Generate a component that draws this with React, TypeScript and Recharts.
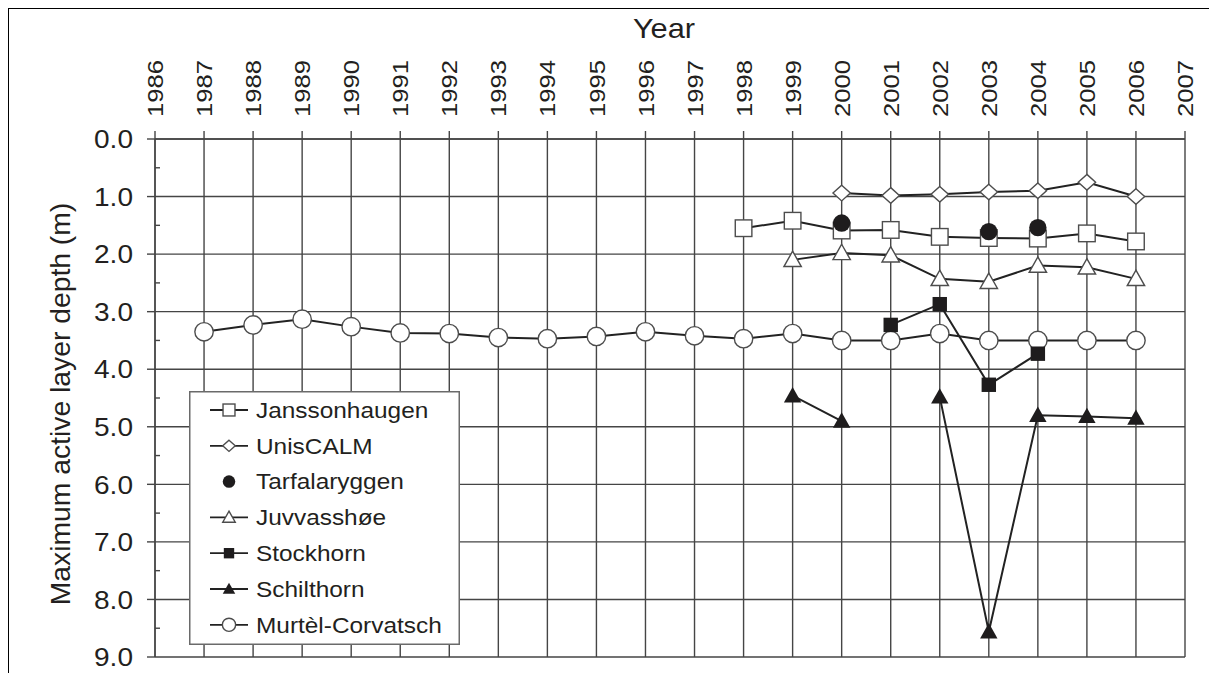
import React from 'react';
import { LineChart, Line, XAxis, YAxis, CartesianGrid, Legend } from 'recharts';

const FONT = '"Liberation Sans", Arial, Helvetica, sans-serif';
const INK = '#231f20';
const GRID = '#454545';
const OPEN_STROKE = '#4d4d4d';

const axisYears = [1986, 1987, 1988, 1989, 1990, 1991, 1992, 1993, 1994, 1995, 1996, 1997, 1998, 1999, 2000, 2001, 2002, 2003, 2004, 2005, 2006, 2007];
const dataYears = [1987, 1988, 1989, 1990, 1991, 1992, 1993, 1994, 1995, 1996, 1997, 1998, 1999, 2000, 2001, 2002, 2003, 2004, 2005, 2006];
const depthTicks = [0, 0.5, 1, 1.5, 2, 2.5, 3, 3.5, 4, 4.5, 5, 5.5, 6, 6.5, 7, 7.5, 8, 8.5, 9];
const depthGrid = [0, 1, 2, 3, 4, 5, 6, 7, 8, 9];

// values per dataYears (1987..2006); null = no measurement
const janssonhaugen = [null, null, null, null, null, null, null, null, null, null, null, 1.55, 1.42, 1.59, 1.58, 1.7, 1.72, 1.73, 1.64, 1.78];
const unisCALM = [null, null, null, null, null, null, null, null, null, null, null, null, null, 0.94, 0.98, 0.96, 0.92, 0.9, 0.75, 1.0];
const tarfalaryggen = [null, null, null, null, null, null, null, null, null, null, null, null, null, 1.46, null, null, 1.61, 1.54, null, null];
const juvvasshoe = [null, null, null, null, null, null, null, null, null, null, null, null, 2.1, 1.98, 2.02, 2.43, 2.48, 2.2, 2.23, 2.43];
const stockhorn = [null, null, null, null, null, null, null, null, null, null, null, null, null, null, 3.23, 2.87, 4.27, 3.73, null, null];
const schilthorn = [null, null, null, null, null, null, null, null, null, null, null, null, 4.46, 4.9, null, 4.48, 8.56, 4.8, 4.82, 4.85];
const murtelCorvatsch = [3.35, 3.23, 3.13, 3.26, 3.37, 3.38, 3.45, 3.47, 3.43, 3.35, 3.42, 3.47, 3.38, 3.5, 3.5, 3.38, 3.5, 3.5, 3.5, 3.5];

const seriesNames = ['Janssonhaugen', 'UnisCALM', 'Tarfalaryggen', 'Juvvasshøe', 'Stockhorn', 'Schilthorn', 'Murtèl-Corvatsch'];

const data = dataYears.map((year, i) => ({
  year,
  janssonhaugen: janssonhaugen[i],
  unisCALM: unisCALM[i],
  tarfalaryggen: tarfalaryggen[i],
  juvvasshoe: juvvasshoe[i],
  stockhorn: stockhorn[i],
  schilthorn: schilthorn[i],
  murtelCorvatsch: murtelCorvatsch[i],
}));

type Shape = 'openSquare' | 'openDiamond' | 'filledCircle' | 'openTriangle' | 'filledSquare' | 'filledTriangle' | 'openCircle';

function Marker({ shape, cx, cy, s = 1 }: { shape: Shape; cx: number; cy: number; s?: number }) {
  const fillDark = '#1e1c1d';
  switch (shape) {
    case 'openSquare': {
      const h = 8.3 * s;
      return <rect x={cx - h} y={cy - h} width={2 * h} height={2 * h} fill="#fff" stroke={OPEN_STROKE} strokeWidth={1.4} />;
    }
    case 'openDiamond': {
      const w = 8.7 * s, h = 7.8 * s;
      return <polygon points={`${cx},${cy - h} ${cx + w},${cy} ${cx},${cy + h} ${cx - w},${cy}`} fill="#fff" stroke={OPEN_STROKE} strokeWidth={1.4} />;
    }
    case 'filledCircle':
      return <circle cx={cx} cy={cy} r={8.7 * s} fill={fillDark} />;
    case 'openTriangle': {
      const w = 8.7 * s, t = 8.7 * s, b = 6.7 * s;
      return <polygon points={`${cx},${cy - t} ${cx + w},${cy + b} ${cx - w},${cy + b}`} fill="#fff" stroke={OPEN_STROKE} strokeWidth={1.4} />;
    }
    case 'filledSquare': {
      const h = 7.2 * s;
      return <rect x={cx - h} y={cy - h} width={2 * h} height={2 * h} fill={fillDark} />;
    }
    case 'filledTriangle': {
      const w = 8.7 * s, t = 8.7 * s, b = 6.7 * s;
      return <polygon points={`${cx},${cy - t} ${cx + w},${cy + b} ${cx - w},${cy + b}`} fill={fillDark} />;
    }
    case 'openCircle':
    default:
      return <circle cx={cx} cy={cy} r={9.2 * s} fill="#fff" stroke={OPEN_STROKE} strokeWidth={1.4} />;
  }
}

const makeDot = (shape: Shape) => (props: any) => {
  const { cx, cy, value, index } = props;
  if (value === null || value === undefined || cx == null || cy == null || Number.isNaN(cy)) {
    return <g key={`e-${shape}-${index}`} />;
  }
  return (
    <g key={`d-${shape}-${index}`}>
      <Marker shape={shape} cx={cx} cy={cy} />
    </g>
  );
};

const XTick = (props: any) => {
  const { x, y, payload } = props;
  return (
    <g>
      <line x1={x} x2={x} y1={y} y2={y - 8} stroke={GRID} strokeWidth={1.4} />
      <text
        transform={`translate(${x},${y - 22}) rotate(-90) scale(1.14,1)`}
        dy="0.36em"
        textAnchor="start"
        fontSize={22.5}
        fontFamily={FONT}
        fill={INK}
      >
        {payload.value}
      </text>
    </g>
  );
};

const YTick = (props: any) => {
  const { x, y, payload } = props;
  const v = payload.value as number;
  const major = Math.abs(v - Math.round(v)) < 1e-6;
  if (!major) {
    return <line x1={x} x2={x + 5} y1={y} y2={y} stroke={GRID} strokeWidth={1.4} />;
  }
  return (
    <g>
      <line x1={x - 8} x2={x} y1={y} y2={y} stroke={GRID} strokeWidth={1.4} />
      <text
        transform={`translate(${x - 22},${y}) scale(1.1,1)`}
        dy="0.36em"
        textAnchor="end"
        fontSize={25.5}
        fontFamily={FONT}
        fill={INK}
      >
        {v.toFixed(1)}
      </text>
    </g>
  );
};

const YTitle = (props: any) => {
  const vb = props.viewBox || {};
  const cx = (vb.x ?? 0) + 52;
  const cy = (vb.y ?? 0) + (vb.height ?? 0) / 2 + 6;
  return (
    <text
      transform={`translate(${cx},${cy}) rotate(-90)`}
      dy="0.36em"
      textAnchor="middle"
      fontSize={28.3}
      fontFamily={FONT}
      fill={INK}
    >
      Maximum active layer depth (m)
    </text>
  );
};

const XTitle = (props: any) => {
  const vb = props.viewBox || {};
  const cx = (vb.x ?? 0) + (vb.width ?? 0) / 2 - 6;
  return (
    <text
      transform={`translate(${cx},${30}) scale(1.12,1)`}
      textAnchor="middle"
      fontSize={27.5}
      fontFamily={FONT}
      fill={INK}
    >
      Year
    </text>
  );
};

const legendShapes: Shape[] = ['openSquare', 'openDiamond', 'filledCircle', 'openTriangle', 'filledSquare', 'filledTriangle', 'openCircle'];
const legendHasLine = [true, true, false, true, true, true, true];

const LegendBox = () => {
  const W = 271, H = 254;
  return (
    <svg width={W} height={H} style={{ display: 'block' }}>
      <rect x={0.75} y={0.75} width={W - 1.5} height={H - 1.5} fill="#fff" stroke="#6a6a6a" strokeWidth={1.5} />
      {seriesNames.map((name, i) => {
        const cy = 19 + i * 35.8;
        return (
          <g key={name}>
            {legendHasLine[i] && <line x1={21} x2={59} y1={cy} y2={cy} stroke="#222" strokeWidth={1.8} />}
            <Marker shape={legendShapes[i]} cx={40} cy={cy} s={0.72} />
            <text
              transform={`translate(67,${cy}) scale(1.12,1)`}
              dy="0.36em"
              fontSize={21.8}
              fontFamily={FONT}
              fill={INK}
            >
              {name}
            </text>
          </g>
        );
      })}
    </svg>
  );
};

const seriesKeys = ['murtelCorvatsch', 'janssonhaugen', 'unisCALM', 'juvvasshoe', 'stockhorn', 'schilthorn', 'tarfalaryggen'];
const seriesShape: Record<string, Shape> = {
  janssonhaugen: 'openSquare',
  unisCALM: 'openDiamond',
  tarfalaryggen: 'filledCircle',
  juvvasshoe: 'openTriangle',
  stockhorn: 'filledSquare',
  schilthorn: 'filledTriangle',
  murtelCorvatsch: 'openCircle',
};

export default function App() {
  return (
    <div style={{ position: 'relative', width: 1201, height: 665 }}>
      <div
        style={{
          position: 'absolute',
          left: -1,
          top: -1,
          width: 1210,
          height: 675,
          boxSizing: 'border-box',
          borderTop: '2px solid #000',
          borderLeft: '2px solid #000',
          pointerEvents: 'none',
        }}
      />
      <LineChart
        width={1201}
        height={665}
        data={data}
        margin={{ top: 0, right: 24, bottom: 16, left: 0 }}
        style={{ fontFamily: FONT }}
      >
        <CartesianGrid
          stroke={GRID}
          strokeWidth={1.4}
          horizontalValues={depthGrid}
          verticalValues={axisYears}
        />
        <XAxis
          dataKey="year"
          type="number"
          orientation="top"
          domain={[1986, 2007]}
          ticks={axisYears}
          interval={0}
          height={131}
          tickSize={0}
          tickMargin={0}
          tickLine={false}
          axisLine={{ stroke: GRID, strokeWidth: 1.4 }}
          tick={<XTick />}
          label={<XTitle />}
        />
        <YAxis
          type="number"
          reversed
          domain={[0, 9]}
          ticks={depthTicks}
          interval={0}
          width={147}
          tickSize={0}
          tickMargin={0}
          tickLine={false}
          axisLine={{ stroke: GRID, strokeWidth: 1.4 }}
          tick={<YTick />}
          label={<YTitle />}
        />
        <Legend
          layout="vertical"
          align="center"
          verticalAlign="middle"
          content={() => <LegendBox />}
          wrapperStyle={{ position: 'absolute', left: 181, top: 383, width: 271, height: 254 }}
        />
        {seriesKeys.map((k) => (
          <Line
            key={k}
            dataKey={k}
            type="linear"
            stroke={k === 'tarfalaryggen' ? 'none' : '#222'}
            strokeWidth={2}
            connectNulls={false}
            dot={makeDot(seriesShape[k])}
            activeDot={false}
            isAnimationActive={false}
            legendType="none"
          />
        ))}
      </LineChart>
    </div>
  );
}
